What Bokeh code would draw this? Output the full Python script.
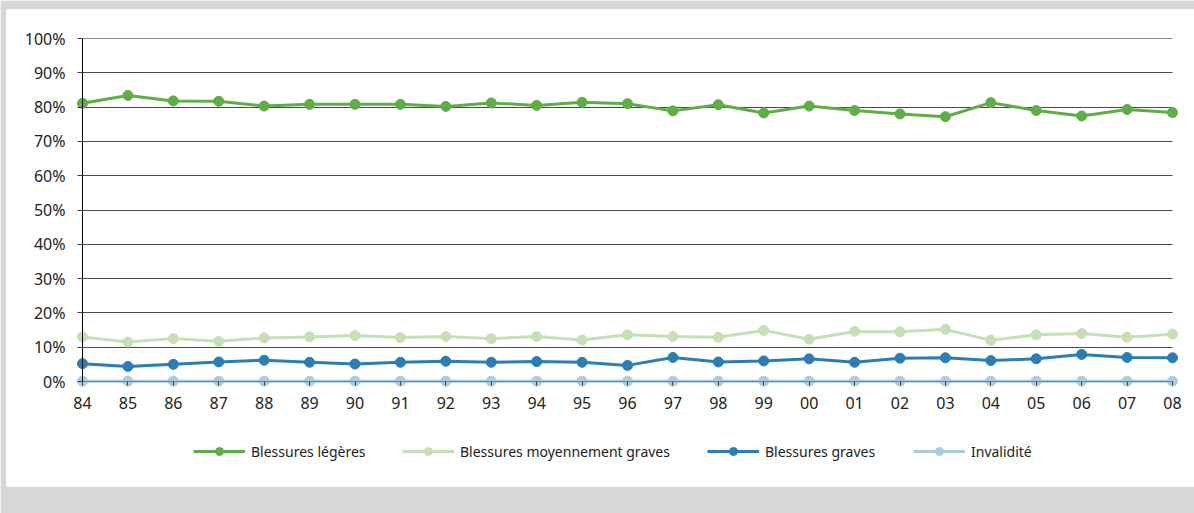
from bokeh.plotting import figure
from bokeh.models import (Range1d, FixedTicker, PrintfTickFormatter, Legend, LegendItem,
                          LinearAxis, Grid)
from bokeh.embed import file_html
from bokeh.resources import INLINE

# Years 1984-2008, shown as two-digit labels
years = ["84", "85", "86", "87", "88", "89", "90", "91", "92", "93", "94", "95", "96",
         "97", "98", "99", "00", "01", "02", "03", "04", "05", "06", "07", "08"]

# Share of cases by severity (%)
legeres = [81.1, 83.4, 81.8, 81.7, 80.3, 80.8, 80.8, 80.8, 80.2, 81.2, 80.5, 81.4, 81.0,
           78.9, 80.7, 78.3, 80.3, 79.0, 78.0, 77.2, 81.3, 79.0, 77.4, 79.3, 78.4]
moyennes = [13.0, 11.5, 12.5, 11.7, 12.7, 13.0, 13.4, 12.8, 13.1, 12.5, 13.1, 12.1, 13.6,
            13.1, 12.9, 14.9, 12.3, 14.6, 14.5, 15.2, 12.0, 13.6, 14.0, 12.9, 13.8]
graves = [5.2, 4.4, 5.0, 5.7, 6.2, 5.6, 5.1, 5.6, 5.9, 5.6, 5.8, 5.6, 4.7,
          7.0, 5.7, 6.0, 6.6, 5.6, 6.8, 6.9, 6.1, 6.6, 7.9, 7.0, 6.9]
invalidite = [0.1] * 25

series_names = ["Blessures légères", "Blessures moyennement graves", "Blessures graves", "Invalidité"]
series_colors = ["#5DAE44", "#C3E1B5", "#2B7EB3", "#A9CCE1"]

FONT = "Noto Sans"
TEXT_COLOR = "#222222"

x = list(range(len(years)))
n = len(years) - 1

# page geometry (pixels): white panel inside a grey band, plot area inside the panel
W, H = 1194, 513
PANEL_L, PANEL_T, PANEL_B = 6, 9, 486
AX_L, AX_R, AX_T, AX_B = 82, 1172, 38, 381

px_per_x = (AX_R - AX_L) / n
px_per_y = (AX_B - AX_T) / 100.0
x_range = Range1d(-(AX_L - PANEL_L) / px_per_x, n + (W - AX_R) / px_per_x)
y_range = Range1d(-(PANEL_B - AX_B) / px_per_y, 100 + (AX_T - PANEL_T) / px_per_y)

p = figure(width=W, height=H, output_backend="svg", toolbar_location=None,
           x_range=x_range, y_range=y_range,
           x_axis_location=None, y_axis_location=None,
           min_border_left=PANEL_L, min_border_right=0,
           min_border_top=PANEL_T, min_border_bottom=H - PANEL_B,
           border_fill_color="#D7D7D7", background_fill_color="white",
           outline_line_color=None)

# value axis
yaxis = LinearAxis(fixed_location=0, bounds=(0, 100))
yaxis.ticker = FixedTicker(ticks=list(range(0, 101, 10)))
yaxis.formatter = PrintfTickFormatter(format="%d%%")
yaxis.axis_line_color = "black"
yaxis.major_tick_line_color = "#404040"
yaxis.major_tick_out = 5
yaxis.major_tick_in = 0
yaxis.minor_tick_line_color = None
yaxis.major_label_standoff = 12

# year axis
xaxis = LinearAxis(fixed_location=0, bounds=(0, n))
xaxis.ticker = FixedTicker(ticks=x)
xaxis.major_label_overrides = {i: y for i, y in enumerate(years)}
xaxis.axis_line_color = "#808080"
xaxis.major_tick_line_color = "#404040"
xaxis.major_tick_out = 4
xaxis.major_tick_in = 0
xaxis.minor_tick_line_color = None
xaxis.major_label_standoff = 11

for ax in (xaxis, yaxis):
    ax.major_label_text_font = FONT
    ax.major_label_text_font_size = "16px"
    ax.major_label_text_color = TEXT_COLOR

p.add_layout(yaxis, "left")
p.add_layout(xaxis, "below")

# horizontal gridlines, limited to the span of the years; top line a shade lighter
p.xgrid.visible = False
p.ygrid.visible = False
hgrid = Grid(dimension=1, ticker=FixedTicker(ticks=list(range(10, 100, 10))),
             cross_bounds=(0, n), grid_line_color="#4A4A4A", grid_line_width=1)
top_grid = Grid(dimension=1, ticker=FixedTicker(ticks=[100]),
                cross_bounds=(0, n), grid_line_color="#8C8C8C", grid_line_width=1)
p.add_layout(hgrid)
p.add_layout(top_grid)

# series
renderers = []
for vals, color in zip([legeres, moyennes, graves, invalidite], series_colors):
    ln = p.line(x, vals, line_color=color, line_width=3)
    sc = p.scatter(x, vals, size=10, fill_color=color, line_color=color)
    renderers.append((ln, sc))

# one legend entry per series, laid out in a row under the axis
legend_x = [187, 396, 701, 907]
for (ln, sc), name, lx in zip(renderers, series_names, legend_x):
    lg = Legend(items=[LegendItem(label=name, renderers=[ln, sc])],
                location=(lx, 25), orientation="horizontal",
                glyph_width=52, glyph_height=20, label_standoff=6,
                padding=0, margin=0, spacing=0,
                border_line_color=None, background_fill_alpha=0,
                label_text_font=FONT, label_text_font_size="14px",
                label_text_color=TEXT_COLOR)
    p.add_layout(lg, "center")

open("out.html", "w").write(file_html(p, INLINE))
